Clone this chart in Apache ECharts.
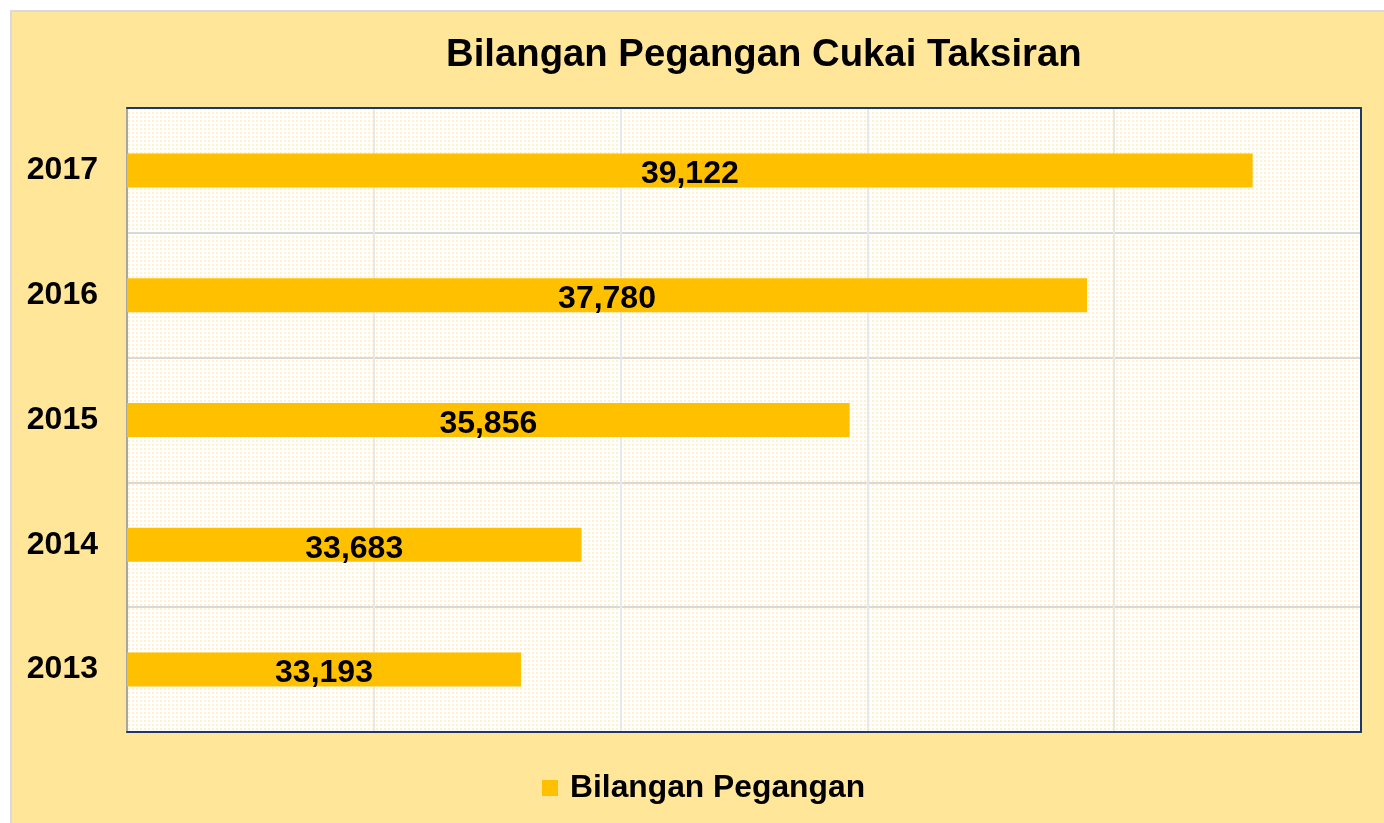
<!DOCTYPE html>
<html>
<head>
<meta charset="utf-8">
<script src="https://cdn.jsdelivr.net/npm/echarts@6/dist/echarts.min.js"></script>
<style>
  html, body { margin: 0; padding: 0; background: #fff; }
  #panel { position: absolute; left: 10px; top: 10px; width: 1372px; height: 811px; background: #FFE699; border-left: 2px solid #D9D9D9; border-top: 2px solid #D9D9D9; }
  #chart { position: absolute; left: 0; top: 0; width: 1384px; height: 823px; }
</style>
</head>
<body>
<div id="panel"></div>
<div id="chart"></div>
<script>
// chart data
const years = ['2013', '2014', '2015', '2016', '2017'];
const holders = [33193, 33683, 35856, 37780, 39122];
const seriesName = 'Bilangan Pegangan';
const chartTitle = 'Bilangan Pegangan Cukai Taksiran';

// faint dotted fill like the original plot area
const dots = document.createElement('canvas');
dots.width = 4; dots.height = 4;
const dctx = dots.getContext('2d');
dctx.fillStyle = '#FFFFFF';
dctx.fillRect(0, 0, 4, 4);
dctx.fillStyle = '#FFF1C8';
dctx.fillRect(0, 0, 2, 2);

const fontFam = 'Liberation Sans, Arial, sans-serif';
const navy = '#1F3864';

const chart = echarts.init(document.getElementById('chart'));
chart.setOption({
  backgroundColor: 'transparent',
  title: {
    text: chartTitle,
    left: 441,
    top: 31,
    textStyle: { fontFamily: fontFam, fontSize: 38.3, fontWeight: 'bold', color: '#000' }
  },
  legend: {
    data: [seriesName],
    left: 537,
    top: 767,
    icon: 'rect',
    itemWidth: 16,
    itemHeight: 16,
    itemGap: 10,
    textStyle: { fontFamily: fontFam, fontSize: 31.8, fontWeight: 'bold', color: '#000', padding: [0, 0, 0, 7] }
  },
  grid: {
    left: 127,
    top: 108,
    width: 1234,
    height: 624,
    show: true,
    backgroundColor: { image: dots, repeat: 'repeat' },
    borderWidth: 0
  },
  xAxis: [{
    type: 'value',
    min: 30000,
    max: 40000,
    interval: 2000,
    axisLabel: { show: false },
    axisTick: { show: false },
    axisLine: { show: true, lineStyle: { color: navy, width: 2 } },
    splitLine: { show: true, lineStyle: { color: '#E8E8E8', width: 2 } }
  }, {
    type: 'value',
    position: 'top',
    min: 30000,
    max: 40000,
    interval: 2000,
    axisLabel: { show: false },
    axisTick: { show: false },
    axisLine: { show: true, lineStyle: { color: navy, width: 2 } },
    splitLine: { show: false }
  }],
  yAxis: [{
    type: 'category',
    data: years,
    axisTick: { show: false },
    axisLine: { show: true, lineStyle: { color: '#A6A6A6', width: 2 } },
    splitLine: { show: true, lineStyle: { color: '#D9D9D9', width: 2 } },
    axisLabel: { margin: 29, fontFamily: fontFam, fontSize: 32, fontWeight: 'bold', color: '#000', padding: [7, 0, 0, 0] }
  }, {
    type: 'category',
    position: 'right',
    data: years,
    axisTick: { show: false },
    axisLabel: { show: false },
    axisLine: { show: true, lineStyle: { color: navy, width: 2 } },
    splitLine: { show: false }
  }],
  series: [{
    name: seriesName,
    type: 'bar',
    data: holders,
    barWidth: 34,
    itemStyle: { color: '#FFC000' },
    label: {
      show: true,
      position: 'inside',
      offset: [0, 4],
      fontFamily: fontFam,
      fontSize: 32,
      fontWeight: 'bold',
      color: '#000',
      formatter: p => p.value.toLocaleString('en-US')
    }
  }]
});
</script>
</body>
</html>
